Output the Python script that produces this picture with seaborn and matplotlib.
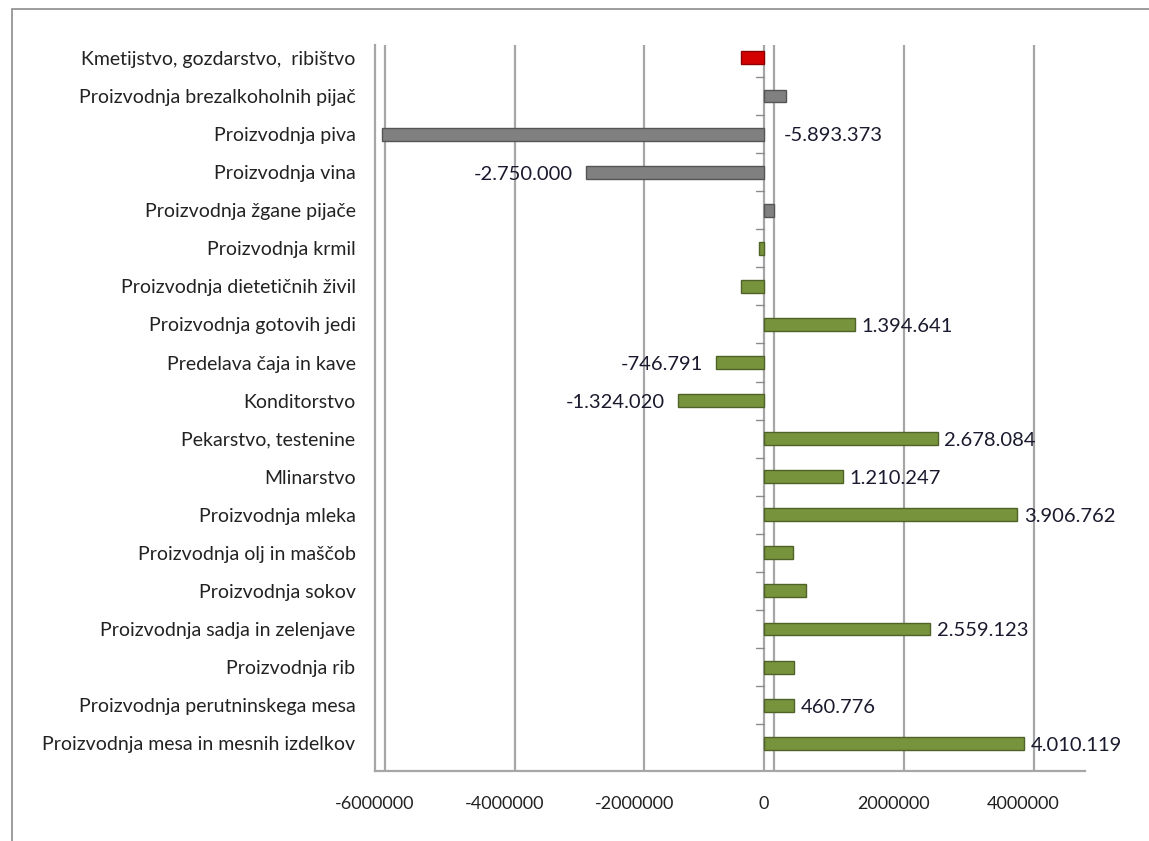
import matplotlib
matplotlib.use('Agg')
import matplotlib.pyplot as plt
import matplotlib.transforms as mtransforms
import seaborn as sns
import pandas as pd

# categories from top to bottom
categories = [
    'Kmetijstvo, gozdarstvo,  ribištvo',
    'Proizvodnja brezalkoholnih pijač',
    'Proizvodnja piva',
    'Proizvodnja vina',
    'Proizvodnja žgane pijače',
    'Proizvodnja krmil',
    'Proizvodnja dietetičnih živil',
    'Proizvodnja gotovih jedi',
    'Predelava čaja in kave',
    'Konditorstvo',
    'Pekarstvo, testenine',
    'Mlinarstvo',
    'Proizvodnja mleka',
    'Proizvodnja olj in maščob',
    'Proizvodnja sokov',
    'Proizvodnja sadja in zelenjave',
    'Proizvodnja rib',
    'Proizvodnja perutninskega mesa',
    'Proizvodnja mesa in mesnih izdelkov',
]
values = [-350000, 330000, -5893373, -2750000, 150000, -80000, -360000,
          1394641, -746791, -1324020, 2678084, 1210247, 3906762,
          440000, 650000, 2559123, 460000, 460776, 4010119]
groups = ['kmetijstvo', 'pijace', 'pijace', 'pijace', 'pijace'] + ['zivila'] * 14
show_label = [False, False, True, True, False, False, False, True, True, True,
              True, True, True, False, False, True, False, True, True]
x_ticks = [-6000000, -4000000, -2000000, 0, 2000000, 4000000]

group_colors = {'kmetijstvo': '#D40000', 'pijace': '#808080', 'zivila': '#77933C'}
edge_colors = {'kmetijstvo': '#8B0000', 'pijace': '#555555', 'zivila': '#4F6228'}

df = pd.DataFrame({'kategorija': categories, 'vrednost': values, 'skupina': groups})

sns.set_style('white')
plt.rcParams['font.family'] = ['Lato', 'DejaVu Sans']

fig = plt.figure(figsize=(11.49, 8.41), dpi=100)
ax = fig.add_axes([0.3264, 0.0832, 0.618, 0.8633])

sns.barplot(data=df, y='kategorija', x='vrednost', hue='skupina',
            palette=group_colors, orient='h', width=0.34, dodge=False,
            legend=False, ax=ax, saturation=1)
for patch, g in zip(ax.patches, groups):
    patch.set_edgecolor(edge_colors[g])
    patch.set_linewidth(1.0)

ax.set_xlim(-6000000, 4950000)
ax.set_ylim(len(categories) - 1 + 0.73, -0.34)
ax.set_xticks(x_ticks)
ax.set_xticklabels([str(t) for t in x_ticks], fontsize=13, color='#222222')
ax.set_xlabel('')
ax.set_ylabel('')
ax.tick_params(axis='y', length=0, labelsize=14, labelcolor='#222222', pad=14)
ax.tick_params(axis='x', length=5, color='#8c8c8c', pad=13)

# gridlines on back wall (offset like the 3D chart)
shift = mtransforms.ScaledTranslation(10 / 100, 0, fig.dpi_scale_trans)
for t in x_ticks:
    ax.plot([t, t], [0, 1], color='#A6A6A6', lw=1.6, zorder=0,
            transform=ax.get_xaxis_transform() + shift)
ax.axvline(0, color='#A6A6A6', lw=1.6, zorder=0.5)

for s in ['top', 'right']:
    ax.spines[s].set_visible(False)
ax.spines['left'].set_color('#A6A6A6')
ax.spines['left'].set_linewidth(1.6)
ax.spines['bottom'].set_color('#A6A6A6')
ax.spines['bottom'].set_linewidth(1.6)

# category ticks at boundaries on the zero line
for i in range(len(categories)):
    ax.plot([-120000, 0], [i - 0.5, i - 0.5], color='#8c8c8c', lw=1, zorder=1)

# data labels
for i, (v, show) in enumerate(zip(values, show_label)):
    if not show:
        continue
    txt = f'{v:,}'.replace(',', '.')
    if v > 0:
        ax.text(v + 100000, i + 0.05, txt, ha='left', va='center', fontsize=14.5, color='#1a1a2e')
    elif v < -5000000:
        ax.text(300000, i + 0.05, txt, ha='left', va='center', fontsize=14.5, color='#1a1a2e')
    else:
        ax.text(v - 200000, i + 0.05, txt, ha='right', va='center', fontsize=14.5, color='#1a1a2e')

# chart area frame
fig.add_artist(plt.Rectangle((12 / 1149, -0.1), 1.2, 1.0893, transform=fig.transFigure,
                             fill=False, edgecolor='#8c8c8c', lw=1.2))

fig.savefig('out.png', dpi=100)
